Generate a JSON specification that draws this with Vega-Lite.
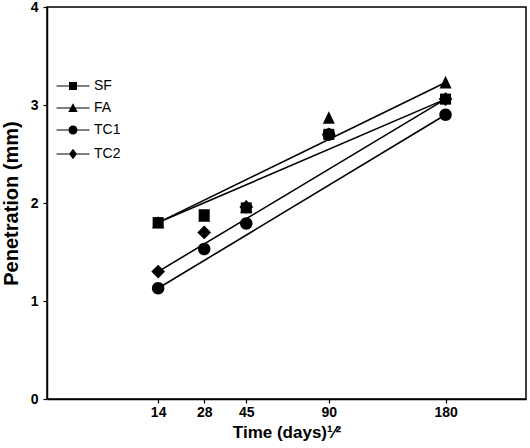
{
  "$schema": "https://vega.github.io/schema/vega-lite/v6.json",
  "width": 479,
  "height": 392,
  "autosize": {"type": "none"},
  "padding": {"left": 47, "top": 7, "right": 4, "bottom": 49},
  "background": "white",
  "config": {
    "font": "Liberation Sans",
    "view": {"stroke": "black", "strokeWidth": 1.5},
    "axis": {
      "grid": false,
      "domainColor": "black",
      "domainWidth": 1.5,
      "tickColor": "black",
      "tickSize": 4,
      "tickWidth": 1.2,
      "labelColor": "black",
      "labelFontWeight": "bold",
      "labelFontSize": 14,
      "titleFontWeight": "bold",
      "titleColor": "black"
    }
  },
  "datasets": {
    "points": [
      {"series": "SF", "days": 14, "penetration": 1.80},
      {"series": "SF", "days": 28, "penetration": 1.88},
      {"series": "SF", "days": 45, "penetration": 1.95},
      {"series": "SF", "days": 90, "penetration": 2.70},
      {"series": "SF", "days": 180, "penetration": 3.06},
      {"series": "FA", "days": 14, "penetration": 1.80},
      {"series": "FA", "days": 28, "penetration": 1.87},
      {"series": "FA", "days": 45, "penetration": 1.96},
      {"series": "FA", "days": 90, "penetration": 2.87},
      {"series": "FA", "days": 180, "penetration": 3.23},
      {"series": "TC1", "days": 14, "penetration": 1.13},
      {"series": "TC1", "days": 28, "penetration": 1.53},
      {"series": "TC1", "days": 45, "penetration": 1.79},
      {"series": "TC1", "days": 90, "penetration": 2.70},
      {"series": "TC1", "days": 180, "penetration": 2.90},
      {"series": "TC2", "days": 14, "penetration": 1.30},
      {"series": "TC2", "days": 28, "penetration": 1.70},
      {"series": "TC2", "days": 45, "penetration": 1.96},
      {"series": "TC2", "days": 90, "penetration": 2.70},
      {"series": "TC2", "days": 180, "penetration": 3.06}
    ],
    "fits": [
      {"series": "SF", "days": 14, "penetration": 1.80},
      {"series": "SF", "days": 180, "penetration": 3.06},
      {"series": "FA", "days": 14, "penetration": 1.80},
      {"series": "FA", "days": 180, "penetration": 3.23},
      {"series": "TC1", "days": 14, "penetration": 1.13},
      {"series": "TC1", "days": 180, "penetration": 2.90},
      {"series": "TC2", "days": 14, "penetration": 1.30},
      {"series": "TC2", "days": 180, "penetration": 3.06}
    ]
  },
  "encoding": {
    "x": {
      "field": "days",
      "type": "quantitative",
      "scale": {"type": "sqrt", "domain": [0, 260], "nice": false},
      "axis": {
        "values": [14, 28, 45, 90, 180],
        "labelPadding": 2,
        "title": "Time (days)¹⁄²",
        "titleFontSize": 17,
        "titlePadding": 5
      }
    },
    "y": {
      "field": "penetration",
      "type": "quantitative",
      "scale": {"domain": [0, 4], "nice": false},
      "axis": {
        "values": [0, 1, 2, 3, 4],
        "labelPadding": 5,
        "title": "Penetration (mm)",
        "titleFontSize": 20,
        "titlePadding": 9
      }
    }
  },
  "layer": [
    {
      "data": {"name": "fits"},
      "mark": {"type": "line", "color": "black", "strokeWidth": 1.6},
      "encoding": {"detail": {"field": "series", "type": "nominal"}}
    },
    {
      "data": {"name": "points"},
      "mark": {"type": "point", "filled": true, "color": "black", "opacity": 1, "size": 144},
      "encoding": {
        "shape": {
          "field": "series",
          "type": "nominal",
          "scale": {
            "domain": ["SF", "FA", "TC1", "TC2"],
            "range": [
              "M-0.92,-0.92H0.92V0.92H-0.92Z",
              "M0,-1.1L1,1H-1Z",
              "M-1.04,0A1.04,1.04,0,1,0,1.04,0A1.04,1.04,0,1,0,-1.04,0Z",
              "M0,-1.15L1.15,0L0,1.15L-1.15,0Z"
            ]
          },
          "legend": null
        }
      }
    },
    {
      "data": {"name": "points"},
      "mark": {"type": "point", "filled": true, "color": "black", "opacity": 0, "size": 100},
      "encoding": {
        "shape": {
          "field": "series",
          "type": "nominal",
          "scale": {
            "domain": ["SF", "FA", "TC1", "TC2"],
            "range": [
              "M-3.3,-0.12H3.3V0.12H-3.3ZM-0.8,-0.8H0.8V0.8H-0.8Z",
              "M-3.3,-0.12H3.3V0.12H-3.3ZM0,-0.95L0.95,0.8H-0.95Z",
              "M-3.3,-0.12H3.3V0.12H-3.3ZM-0.9,0A0.9,0.9,0,1,1,0.9,0A0.9,0.9,0,1,1,-0.9,0Z",
              "M-3.3,-0.12H3.3V0.12H-3.3ZM0,-1.05L0.8,0L0,1.05L-0.8,0Z"
            ]
          },
          "legend": {
            "title": null,
            "orient": "none",
            "legendX": 19,
            "legendY": 72,
            "padding": 0,
            "symbolSize": 100,
            "symbolOpacity": 1,
            "symbolFillColor": "black",
            "labelOffset": 14,
            "labelFontSize": 14,
            "labelColor": "black",
            "rowPadding": 7
          }
        }
      }
    }
  ],
  "resolve": {"scale": {"shape": "independent"}, "legend": {"shape": "independent"}}
}
